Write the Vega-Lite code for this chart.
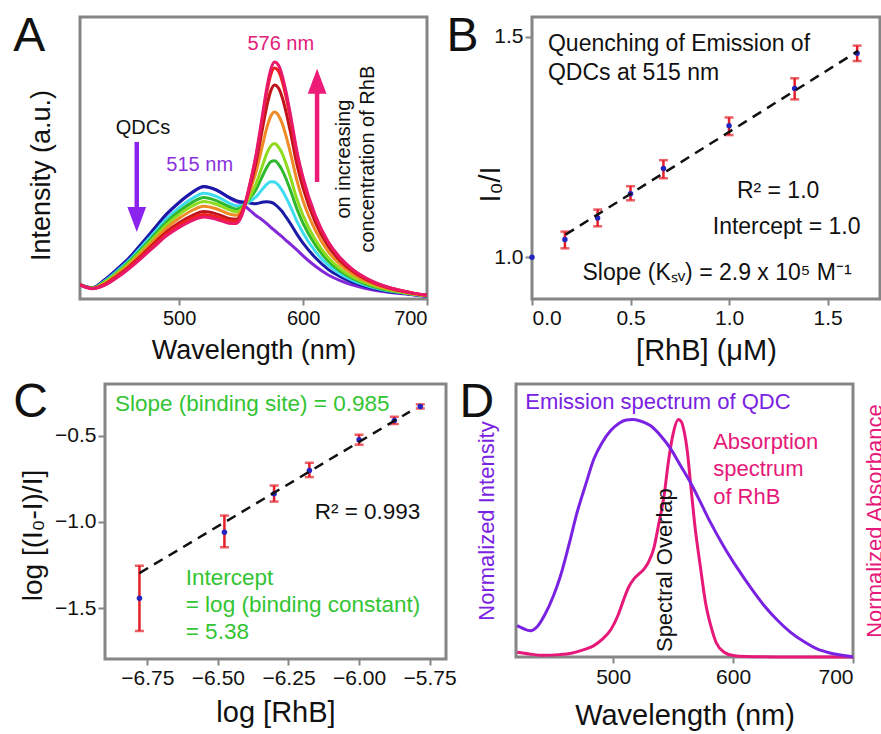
{
  "$schema": "https://vega.github.io/schema/vega-lite/v6.json",
  "background": "white",
  "padding": {"left": 10, "top": 11, "right": 0, "bottom": 0},
  "columns": 2,
  "align": "none",
  "bounds": "full",
  "spacing": {"row": 10, "column": 0},
  "config": {
    "font": "Liberation Sans",
    "view": {"stroke": "#858585", "strokeWidth": 3},
    "axis": {"domain": false, "grid": false, "tickColor": "#858585", "tickWidth": 2, "tickSize": 6, "labelFont": "Liberation Sans", "labelFontSize": 21, "labelColor": "#111111", "titleFont": "Liberation Sans", "titleFontWeight": "normal", "titleColor": "#111111", "labelPadding": 4},
    "text": {"font": "Liberation Sans"}
  },
  "datasets": {
    "specA": [
      {"w":420,"pu":5.0,"db":5.2,"cy":5.1,"gr":5.1,"lg":5.0,"or":5.1,"dr":5.1,"rd":5.1,"pk":5.0},
      {"w":430,"pu":3.9,"db":4.0,"cy":3.9,"gr":3.8,"lg":3.8,"or":3.7,"dr":3.7,"rd":3.7,"pk":3.6},
      {"w":440,"pu":6.8,"db":6.8,"cy":6.4,"gr":6.1,"lg":5.9,"or":5.6,"dr":5.2,"rd":5.1,"pk":4.9},
      {"w":450,"pu":10.6,"db":10.6,"cy":10.0,"gr":9.5,"lg":9.2,"or":8.7,"dr":8.2,"rd":7.9,"pk":7.6},
      {"w":460,"pu":14.7,"db":14.7,"cy":13.9,"gr":13.4,"lg":12.9,"or":12.3,"dr":11.6,"rd":11.2,"pk":10.9},
      {"w":470,"pu":19.7,"db":19.8,"cy":18.7,"gr":17.9,"lg":17.3,"or":16.5,"dr":15.6,"rd":15.2,"pk":14.7},
      {"w":480,"pu":24.9,"db":25.0,"cy":23.6,"gr":22.7,"lg":21.9,"or":20.9,"dr":19.8,"rd":19.2,"pk":18.6},
      {"w":490,"pu":30.1,"db":30.2,"cy":28.5,"gr":27.4,"lg":26.4,"or":25.2,"dr":23.9,"rd":23.2,"pk":22.5},
      {"w":500,"pu":34.2,"db":34.3,"cy":32.4,"gr":31.1,"lg":30.0,"or":28.6,"dr":27.0,"rd":26.2,"pk":25.4},
      {"w":510,"pu":37.6,"db":37.7,"cy":35.5,"gr":34.1,"lg":32.8,"or":31.3,"dr":29.5,"rd":28.6,"pk":27.7},
      {"w":520,"pu":39.8,"db":39.9,"cy":37.5,"gr":36.0,"lg":34.6,"or":32.9,"dr":31.0,"rd":30.0,"pk":29.1},
      {"w":530,"pu":38.6,"db":38.7,"cy":36.4,"gr":34.9,"lg":33.6,"or":32.0,"dr":30.2,"rd":29.2,"pk":28.3},
      {"w":540,"pu":36.0,"db":36.1,"cy":34.1,"gr":32.8,"lg":31.7,"or":30.2,"dr":28.6,"rd":27.8,"pk":26.9},
      {"w":546,"pu":34.6,"db":34.9,"cy":33.1,"gr":31.9,"lg":30.9,"or":29.7,"dr":28.3,"rd":27.6,"pk":26.8},
      {"w":550,"pu":33.9,"db":34.5,"cy":33.2,"gr":32.4,"lg":31.7,"or":31.0,"dr":30.1,"rd":29.7,"pk":29.0},
      {"w":553,"pu":33.0,"db":34.3,"cy":33.6,"gr":33.5,"lg":33.3,"or":33.5,"dr":33.4,"rd":33.5,"pk":33.0},
      {"w":556,"pu":31.9,"db":34.1,"cy":34.4,"gr":35.1,"lg":35.5,"or":37.0,"dr":37.9,"rd":38.7,"pk":38.5},
      {"w":559,"pu":30.7,"db":33.9,"cy":35.2,"gr":36.8,"lg":38.0,"or":40.8,"dr":42.9,"rd":44.4,"pk":44.5},
      {"w":562,"pu":29.6,"db":33.8,"cy":36.2,"gr":38.8,"lg":40.8,"or":45.0,"dr":48.3,"rd":50.6,"pk":51.0},
      {"w":565,"pu":28.7,"db":34.1,"cy":37.8,"gr":41.5,"lg":44.5,"or":50.3,"dr":55.1,"rd":58.2,"pk":59.0},
      {"w":568,"pu":27.7,"db":34.4,"cy":39.4,"gr":44.3,"lg":48.3,"or":55.9,"dr":62.2,"rd":66.3,"pk":67.5},
      {"w":571,"pu":26.6,"db":34.5,"cy":40.8,"gr":46.9,"lg":51.9,"or":61.1,"dr":68.9,"rd":73.9,"pk":75.5},
      {"w":574,"pu":25.4,"db":34.3,"cy":41.6,"gr":48.7,"lg":54.3,"or":64.9,"dr":73.9,"rd":79.6,"pk":81.5},
      {"w":577,"pu":24.3,"db":33.7,"cy":41.5,"gr":49.0,"lg":55.1,"or":66.3,"dr":75.9,"rd":81.9,"pk":84.0},
      {"w":580,"pu":23.2,"db":32.5,"cy":40.4,"gr":47.9,"lg":54.0,"or":65.2,"dr":74.9,"rd":80.9,"pk":83.0},
      {"w":583,"pu":22.1,"db":31.1,"cy":38.6,"gr":45.8,"lg":51.7,"or":62.4,"dr":71.7,"rd":77.5,"pk":79.5},
      {"w":586,"pu":20.9,"db":29.2,"cy":36.2,"gr":42.9,"lg":48.3,"or":58.2,"dr":66.8,"rd":72.2,"pk":74.0},
      {"w":590,"pu":19.4,"db":26.6,"cy":32.6,"gr":38.3,"lg":42.9,"or":51.5,"dr":58.8,"rd":63.4,"pk":65.0},
      {"w":595,"pu":17.4,"db":23.0,"cy":27.6,"gr":32.0,"lg":35.5,"or":42.1,"dr":47.8,"rd":51.3,"pk":52.5},
      {"w":600,"pu":15.3,"db":19.8,"cy":23.4,"gr":26.8,"lg":29.6,"or":34.8,"dr":39.3,"rd":42.1,"pk":43.0},
      {"w":610,"pu":11.6,"db":14.6,"cy":16.8,"gr":19.1,"lg":20.9,"or":24.3,"dr":27.1,"rd":28.9,"pk":29.5},
      {"w":620,"pu":8.6,"db":10.6,"cy":12.1,"gr":13.6,"lg":14.8,"or":17.0,"dr":18.9,"rd":20.2,"pk":20.5},
      {"w":630,"pu":6.5,"db":7.9,"cy":8.9,"gr":9.9,"lg":10.7,"or":12.2,"dr":13.5,"rd":14.4,"pk":14.6},
      {"w":640,"pu":4.9,"db":5.9,"cy":6.6,"gr":7.3,"lg":7.8,"or":8.9,"dr":9.8,"rd":10.3,"pk":10.5},
      {"w":650,"pu":3.8,"db":4.5,"cy":4.9,"gr":5.4,"lg":5.8,"or":6.5,"dr":7.1,"rd":7.5,"pk":7.6},
      {"w":660,"pu":2.9,"db":3.4,"cy":3.7,"gr":4.0,"lg":4.3,"or":4.8,"dr":5.2,"rd":5.4,"pk":5.5},
      {"w":670,"pu":2.3,"db":2.6,"cy":2.8,"gr":3.0,"lg":3.2,"or":3.5,"dr":3.8,"rd":4.0,"pk":4.0},
      {"w":680,"pu":1.9,"db":2.1,"cy":2.2,"gr":2.3,"lg":2.4,"or":2.6,"dr":2.8,"rd":2.9,"pk":2.9},
      {"w":690,"pu":1.4,"db":1.5,"cy":1.6,"gr":1.7,"lg":1.7,"or":1.8,"dr":1.9,"rd":2.0,"pk":2.0},
      {"w":700,"pu":0.9,"db":1.0,"cy":1.1,"gr":1.1,"lg":1.2,"or":1.3,"dr":1.3,"rd":1.4,"pk":1.4}
    ],
    "B": [
      {"x":0,"y":1.0,"lo":1.0,"hi":1.0},
      {"x":0.167,"y":1.040,"lo":1.020,"hi":1.058},
      {"x":0.333,"y":1.089,"lo":1.070,"hi":1.108},
      {"x":0.5,"y":1.144,"lo":1.129,"hi":1.161},
      {"x":0.667,"y":1.201,"lo":1.179,"hi":1.220},
      {"x":1.0,"y":1.298,"lo":1.277,"hi":1.317},
      {"x":1.333,"y":1.383,"lo":1.358,"hi":1.406},
      {"x":1.65,"y":1.463,"lo":1.445,"hi":1.480}
    ],
    "Bfit": [{"x":0.17,"y":1.051},{"x":1.655,"y":1.468}],
    "C": [
      {"x":-6.778,"y":-1.442,"lo":-1.632,"hi":-1.254},
      {"x":-6.477,"y":-1.060,"lo":-1.147,"hi":-0.963},
      {"x":-6.301,"y":-0.837,"lo":-0.882,"hi":-0.789},
      {"x":-6.176,"y":-0.702,"lo":-0.740,"hi":-0.657},
      {"x":-6.000,"y":-0.523,"lo":-0.552,"hi":-0.494},
      {"x":-5.875,"y":-0.411,"lo":-0.432,"hi":-0.390},
      {"x":-5.783,"y":-0.330,"lo":-0.342,"hi":-0.318}
    ],
    "Cfit": [{"x":-6.778,"y":-1.297},{"x":-5.82,"y":-0.36}],
    "Dem": [
      {"w":420,"v":0.132},{"w":425,"v":0.12},{"w":431,"v":0.111},{"w":437,"v":0.13},{"w":443,"v":0.178},{"w":450,"v":0.255},{"w":456,"v":0.34},{"w":463,"v":0.47},{"w":470,"v":0.61},{"w":477,"v":0.725},{"w":484,"v":0.835},{"w":491,"v":0.905},{"w":498,"v":0.954},{"w":505,"v":0.985},{"w":511,"v":0.998},{"w":516,"v":1.0},{"w":522,"v":0.995},{"w":531,"v":0.975},{"w":540,"v":0.93},{"w":548,"v":0.877},{"w":556,"v":0.808},{"w":565,"v":0.73},{"w":573,"v":0.65},{"w":581,"v":0.568},{"w":592,"v":0.468},{"w":604,"v":0.371},{"w":615,"v":0.29},{"w":626,"v":0.216},{"w":637,"v":0.155},{"w":648,"v":0.104},{"w":659,"v":0.065},{"w":670,"v":0.034},{"w":680,"v":0.018},{"w":690,"v":0.008},{"w":700,"v":0.0}
    ],
    "Dab": [
      {"w":420,"v":0.02},{"w":430,"v":0.013},{"w":442,"v":0.007},{"w":455,"v":0.01},{"w":465,"v":0.016},{"w":475,"v":0.03},{"w":484,"v":0.048},{"w":491,"v":0.075},{"w":498,"v":0.115},{"w":504,"v":0.175},{"w":509,"v":0.245},{"w":513,"v":0.295},{"w":517.5,"v":0.33},{"w":522,"v":0.352},{"w":526,"v":0.372},{"w":530,"v":0.405},{"w":534,"v":0.46},{"w":538,"v":0.56},{"w":542.5,"v":0.68},{"w":546,"v":0.82},{"w":550,"v":0.94},{"w":554.4,"v":1.0},{"w":557,"v":0.99},{"w":559,"v":0.955},{"w":562,"v":0.86},{"w":564.7,"v":0.723},{"w":568,"v":0.56},{"w":573,"v":0.371},{"w":577,"v":0.23},{"w":581.4,"v":0.132},{"w":586,"v":0.06},{"w":592.5,"v":0.02},{"w":600,"v":0.006},{"w":610,"v":0.002},{"w":650,"v":0.0},{"w":700,"v":0.0}
    ]
  },
  "concat": [
    {"width": 1, "height": 1, "view": {"stroke": null}, "data": {"values": [{}]}, "mark": {"type": "text", "text": ""}, "encoding": {}},
    {
      "bounds": "flush",
      "spacing": 105,
      "hconcat": [
        {
          "width": 347, "height": 282,
          "layer": [
            {
              "data": {"name": "specA"},
              "transform": [{"fold": ["pu","db","cy","gr","lg","or","dr","rd","pk"], "as": ["series","I"]}],
              "mark": {"type": "line", "interpolate": "monotone", "strokeWidth": 3, "clip": true},
              "encoding": {
                "x": {"field": "w", "type": "quantitative", "scale": {"domain": [420, 700], "nice": false, "zero": false}, "axis": {"values": [500, 600, 700], "title": "Wavelength (nm)", "titleFontSize": 27, "labelFontSize": 20, "labelPadding": 3, "titlePadding": 9}},
                "y": {"field": "I", "type": "quantitative", "scale": {"domain": [0, 100], "nice": false}, "axis": {"title": "Intensity (a.u.)", "labels": false, "ticks": false, "titleFontSize": 27, "titlePadding": 25, "titleY": 158}},
                "color": {"field": "series", "type": "nominal", "scale": {"domain": ["pu","db","cy","gr","lg","or","dr","rd","pk"], "range": ["#8228d8","#1a1aa6","#3fdcf0","#2eb82e","#8fdc1e","#f08a24","#c0141c","#f0201e","#e8186a"]}, "legend": null}
              }
            },
            {"data": {"values": [{}]}, "mark": {"type": "rule", "color": "#8b22ee", "strokeWidth": 4.5}, "encoding": {"x": {"datum": 465.8}, "y": {"datum": 55.7}, "y2": {"datum": 29}}},
            {"data": {"values": [{}]}, "mark": {"type": "point", "shape": "M-0.75,-1L0.75,-1L0,1Z", "size": 625, "filled": true, "opacity": 1, "color": "#8b22ee"}, "encoding": {"x": {"datum": 465.8}, "y": {"datum": 28.2}}},
            {"data": {"values": [{}]}, "mark": {"type": "rule", "color": "#ee1a78", "strokeWidth": 4.5}, "encoding": {"x": {"datum": 611.3}, "y": {"datum": 41.5}, "y2": {"datum": 76.5}}},
            {"data": {"values": [{}]}, "mark": {"type": "point", "shape": "M-0.75,1L0.75,1L0,-1Z", "size": 625, "filled": true, "opacity": 1, "color": "#ee1a78"}, "encoding": {"x": {"datum": 611.3}, "y": {"datum": 77.2}}},
            {"data": {"values": [{}]}, "mark": {"type": "text", "text": "576 nm", "fontSize": 20, "color": "#e0207a", "align": "center", "baseline": "middle"}, "encoding": {"x": {"datum": 582}, "y": {"datum": 90.4}}},
            {"data": {"values": [{}]}, "mark": {"type": "text", "text": "515 nm", "fontSize": 20, "color": "#8a30e0", "align": "center", "baseline": "middle"}, "encoding": {"x": {"datum": 516.6}, "y": {"datum": 47.5}}},
            {"data": {"values": [{}]}, "mark": {"type": "text", "text": "QDCs", "fontSize": 20, "color": "#111111", "align": "center", "baseline": "middle"}, "encoding": {"x": {"datum": 470.8}, "y": {"datum": 60.6}}},
            {"data": {"values": [{}]}, "mark": {"type": "text", "text": ["on increasing", "concentration of RhB"], "lineHeight": 24, "angle": 270, "fontSize": 20, "color": "#111111", "align": "center", "baseline": "middle"}, "encoding": {"x": {"datum": 632.9}, "y": {"datum": 49.6}}},
            {"data": {"values": [{}]}, "mark": {"type": "text", "text": "A", "fontSize": 48, "color": "#111111", "align": "left", "baseline": "alphabetic"}, "encoding": {"x": {"datum": 366.1}, "y": {"datum": 87.9}}}
          ]
        },
        {
          "width": 348, "height": 282,
          "layer": [
            {
              "data": {"name": "B"},
              "transform": [{"filter": "datum.x > 0"}],
              "mark": {"type": "errorbar", "ticks": true, "size": 9, "thickness": 2.5, "color": "#e41e26"},
              "encoding": {
                "x": {"field": "x", "type": "quantitative", "scale": {"domain": [0, 1.766], "nice": false, "zero": false}, "axis": {"values": [0, 0.5, 1, 1.5], "format": ".1f", "title": "[RhB] (μM)", "titleFontSize": 29, "labelPadding": 2, "titlePadding": 8}},
                "y": {"field": "lo", "type": "quantitative", "scale": {"domain": [0.905, 1.545], "nice": false, "zero": false}, "axis": {"values": [1.0, 1.5], "format": ".1f", "title": "I₀/I", "titleFontSize": 29, "tickSize": 7, "labelPadding": 2, "titlePadding": -12, "titleY": 167}},
                "y2": {"field": "hi"}
              }
            },
            {"data": {"name": "B"}, "mark": {"type": "point", "filled": true, "size": 30, "opacity": 1, "color": "#2424c0"}, "encoding": {"x": {"field": "x", "type": "quantitative"}, "y": {"field": "y", "type": "quantitative"}}},
            {"data": {"name": "Bfit"}, "mark": {"type": "line", "color": "#111111", "strokeWidth": 2.5, "strokeDash": [10, 7]}, "encoding": {"x": {"field": "x", "type": "quantitative"}, "y": {"field": "y", "type": "quantitative"}}},
            {"data": {"values": [{}]}, "mark": {"type": "text", "text": ["Quenching of Emission of", "QDCs at 515 nm"], "lineHeight": 29, "fontSize": 23, "color": "#111111", "align": "left", "baseline": "middle"}, "encoding": {"x": {"datum": 0.081}, "y": {"datum": 1.484}}},
            {"data": {"values": [{}]}, "mark": {"type": "text", "text": "R² = 1.0", "fontSize": 23, "color": "#111111", "align": "center", "baseline": "middle"}, "encoding": {"x": {"datum": 1.249}, "y": {"datum": 1.150}}},
            {"data": {"values": [{}]}, "mark": {"type": "text", "text": "Intercept = 1.0", "fontSize": 23, "color": "#111111", "align": "center", "baseline": "middle"}, "encoding": {"x": {"datum": 1.292}, "y": {"datum": 1.068}}},
            {"data": {"values": [{}]}, "mark": {"type": "text", "text": "Slope (Kₛᵥ) = 2.9 x 10⁵ M⁻¹", "fontSize": 23, "color": "#111111", "align": "center", "baseline": "middle"}, "encoding": {"x": {"datum": 0.939}, "y": {"datum": 0.964}}},
            {"data": {"values": [{}]}, "mark": {"type": "text", "text": "B", "fontSize": 48, "color": "#111111", "align": "left", "baseline": "alphabetic"}, "encoding": {"x": {"datum": -0.434}, "y": {"datum": 1.468}}}
          ]
        }
      ]
    },
    {"width": 1, "height": 1, "view": {"stroke": null}, "data": {"values": [{}]}, "mark": {"type": "text", "text": ""}, "encoding": {}},
    {
      "bounds": "flush",
      "spacing": 70,
      "hconcat": [
        {
          "width": 341, "height": 275,
          "layer": [
            {
              "data": {"name": "C"},
              "mark": {"type": "errorbar", "ticks": true, "size": 9, "thickness": 2.5, "color": "#e41e26"},
              "encoding": {
                "x": {"field": "x", "type": "quantitative", "scale": {"domain": [-6.9, -5.692], "nice": false, "zero": false}, "axis": {"values": [-6.75, -6.5, -6.25, -6, -5.75], "format": ".2f", "title": "log [RhB]", "titleFontSize": 29, "labelPadding": 2, "titlePadding": 10}},
                "y": {"field": "lo", "type": "quantitative", "scale": {"domain": [-1.795, -0.2], "nice": false, "zero": false}, "axis": {"values": [-1.5, -1.0, -0.5], "format": ".1f", "title": "log [(I₀-I)/I]", "titleFontSize": 28, "tickSize": 7, "labelPadding": 2, "titlePadding": 7, "titleY": 151}},
                "y2": {"field": "hi"}
              }
            },
            {"data": {"name": "C"}, "mark": {"type": "point", "filled": true, "size": 30, "opacity": 1, "color": "#2424c0"}, "encoding": {"x": {"field": "x", "type": "quantitative"}, "y": {"field": "y", "type": "quantitative"}}},
            {"data": {"name": "Cfit"}, "mark": {"type": "line", "color": "#111111", "strokeWidth": 2.5, "strokeDash": [10, 7]}, "encoding": {"x": {"field": "x", "type": "quantitative"}, "y": {"field": "y", "type": "quantitative"}}},
            {"data": {"values": [{}]}, "mark": {"type": "text", "text": "Slope (binding site) = 0.985", "fontSize": 22.5, "color": "#33c433", "align": "left", "baseline": "middle"}, "encoding": {"x": {"datum": -6.865}, "y": {"datum": -0.314}}},
            {"data": {"values": [{}]}, "mark": {"type": "text", "text": "R² = 0.993", "fontSize": 22.5, "color": "#111111", "align": "center", "baseline": "middle"}, "encoding": {"x": {"datum": -5.97}, "y": {"datum": -0.942}}},
            {"data": {"values": [{}]}, "mark": {"type": "text", "text": ["Intercept", "= log (binding constant)", "= 5.38"], "lineHeight": 27, "fontSize": 22.5, "color": "#33c433", "align": "left", "baseline": "middle"}, "encoding": {"x": {"datum": -6.614}, "y": {"datum": -1.326}}},
            {"data": {"values": [{}]}, "mark": {"type": "text", "text": "C", "fontSize": 48, "color": "#111111", "align": "left", "baseline": "alphabetic"}, "encoding": {"x": {"datum": -7.225}, "y": {"datum": -0.39}}}
          ]
        },
        {
          "width": 337, "height": 273,
          "layer": [
            {
              "data": {"name": "Dab"},
              "mark": {"type": "line", "interpolate": "monotone", "strokeWidth": 3, "color": "#e6197a"},
              "encoding": {
                "x": {"field": "w", "type": "quantitative", "scale": {"domain": [419, 700], "nice": false, "zero": false}, "axis": {"values": [500, 600, 700], "title": "Wavelength (nm)", "titleFontSize": 29, "labelPadding": 3, "titlePadding": 14}},
                "y": {"field": "v", "type": "quantitative", "scale": {"domain": [0, 1.15], "nice": false}, "axis": {"orient": "right", "title": "Normalized Absorbance", "titleColor": "#e6197a", "titleFontSize": 22, "titleAngle": 270, "titleBaseline": "top", "labels": false, "ticks": false, "titlePadding": 11}}
              }
            },
            {
              "data": {"name": "Dem"},
              "mark": {"type": "line", "interpolate": "monotone", "strokeWidth": 3, "color": "#7a22e2"},
              "encoding": {
                "x": {"field": "w", "type": "quantitative"},
                "y": {"field": "v", "type": "quantitative", "scale": {"domain": [0, 1.15], "nice": false}, "axis": {"orient": "left", "title": "Normalized Intensity", "titleColor": "#7a22e2", "titleFontSize": 22, "labels": false, "ticks": false, "titlePadding": 18}}
              }
            },
            {"data": {"values": [{}]}, "mark": {"type": "text", "text": "Emission spectrum of QDC", "fontSize": 22, "color": "#7a22e2", "align": "left", "baseline": "middle"}, "encoding": {"x": {"datum": 426.7}, "y": {"datum": 1.074, "scale": {"domain": [0, 1.15], "nice": false}, "axis": null}}},
            {"data": {"values": [{}]}, "mark": {"type": "text", "text": ["Absorption", "spectrum", "of RhB"], "lineHeight": 27.5, "fontSize": 22, "color": "#e6197a", "align": "left", "baseline": "middle"}, "encoding": {"x": {"datum": 583.4}, "y": {"datum": 0.906, "scale": {"domain": [0, 1.15], "nice": false}, "axis": null}}},
            {"data": {"values": [{}]}, "mark": {"type": "text", "text": "Spectral Overlap", "angle": 270, "fontSize": 22, "color": "#111111", "align": "center", "baseline": "middle"}, "encoding": {"x": {"datum": 543.5}, "y": {"datum": 0.366, "scale": {"domain": [0, 1.15], "nice": false}, "axis": null}}},
            {"data": {"values": [{}]}, "mark": {"type": "text", "text": "D", "fontSize": 48, "color": "#111111", "align": "left", "baseline": "alphabetic"}, "encoding": {"x": {"datum": 371.8}, "y": {"datum": 1.011, "scale": {"domain": [0, 1.15], "nice": false}, "axis": null}}}
          ],
          "resolve": {"scale": {"y": "independent"}}
        }
      ]
    }
  ]
}
